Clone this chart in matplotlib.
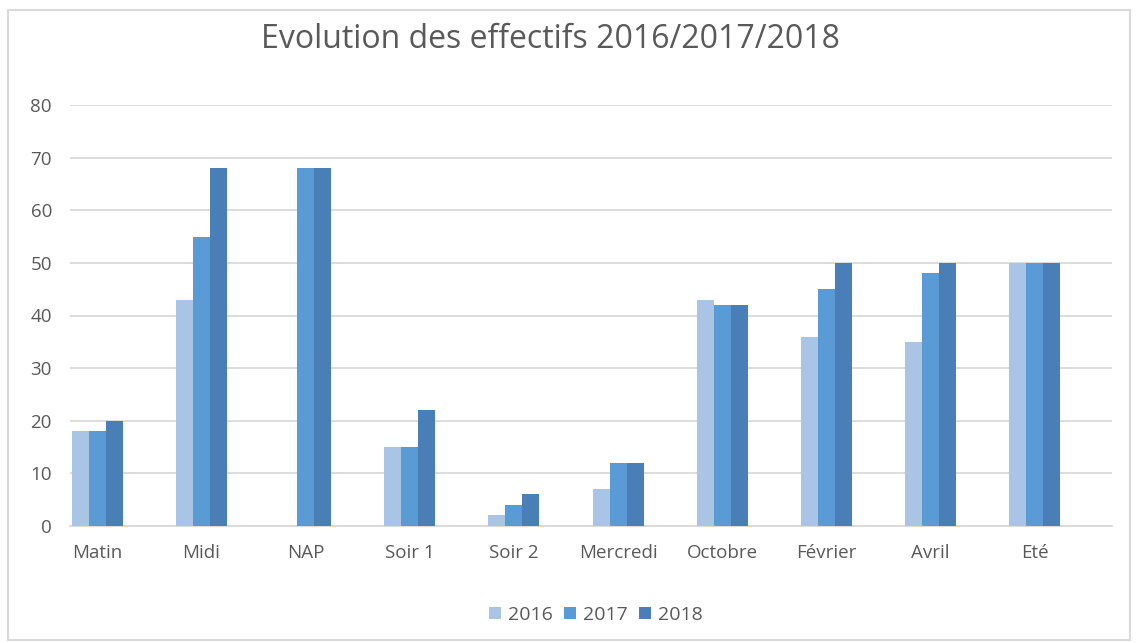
import numpy as np
import matplotlib
matplotlib.use("Agg")
import matplotlib.pyplot as plt
from matplotlib.patches import Rectangle

categories = ["Matin", "Midi", "NAP", "Soir 1", "Soir 2", "Mercredi",
              "Octobre", "Février", "Avril", "Eté"]
years = ["2016", "2017", "2018"]
v2016 = [18, 43, 0, 15, 2, 7, 43, 36, 35, 50]
v2017 = [18, 55, 68, 15, 4, 12, 42, 45, 48, 50]
v2018 = [20, 68, 68, 22, 6, 12, 42, 50, 50, 50]
colors = ["#A9C4E5", "#5B9BD5", "#4A7EB7"]

plt.rcParams["font.family"] = ["Open Sans", "DejaVu Sans"]

fig = plt.figure(figsize=(11.38, 6.43), dpi=100)
ax = fig.add_axes([70 / 1138, 1 - 526 / 643, (1112 - 70) / 1138, (526 - 105) / 643])

x = np.arange(len(categories))
w = 0.163
for i, (vals, year) in enumerate(zip([v2016, v2017, v2018], years)):
    ax.bar(x + (i - 1) * w, vals, width=w, color=colors[i], label=year, zorder=3)

ax.set_ylim(0, 80)
ax.set_yticks(range(0, 81, 10))
ax.set_xlim(-0.26, 9.74)
ax.set_xticks(x)
ax.set_xticklabels(categories)
ax.grid(axis="y", color="#D9D9D9", linewidth=1.3, zorder=0)
for s in ["top", "right", "left"]:
    ax.spines[s].set_visible(False)
ax.spines["bottom"].set_color("#D9D9D9")
ax.spines["bottom"].set_linewidth(1.3)
ax.tick_params(axis="both", length=0, colors="#595959", labelsize=13.5)
ax.tick_params(axis="y", pad=13)
ax.tick_params(axis="x", pad=13)

fig.text(550 / 1138, 1 - 40 / 643, "Evolution des effectifs 2016/2017/2018",
         ha="center", va="center", fontsize=23, color="#595959")

fig.legend(loc="center", bbox_to_anchor=(596 / 1138, 1 - 615 / 643), ncol=3,
           frameon=False, fontsize=14, handlelength=0.6, handleheight=0.6,
           handletextpad=0.35, columnspacing=0.6, labelcolor="#595959")

fig.patches.append(Rectangle((8 / 1138, 1 - 640 / 643), 1122 / 1138, 630 / 643,
                             transform=fig.transFigure, fill=False,
                             edgecolor="#D9D9D9", linewidth=1.5))

fig.savefig("out.png", dpi=100)
